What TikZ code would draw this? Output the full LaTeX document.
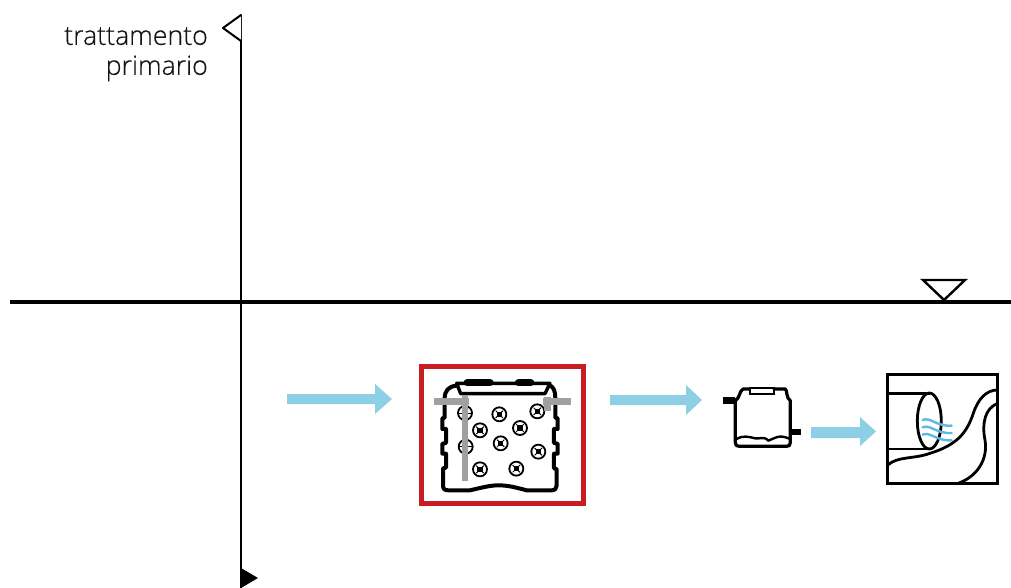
\documentclass[tikz,border=0pt]{standalone}
\usepackage{fontspec}
\newfontfamily\labfont{Open Sans Light}[FakeBold=0.35]
\begin{document}
\begin{tikzpicture}[x=1pt,y=-1pt,
  ink/.style={draw=black,line join=round,line cap=round},
  flow/.style={fill=arrowblue,draw=none},
  pipe/.style={draw=pipegray,line width=6.8pt},
  wave/.style={draw=waveblue,line width=2.4pt,line cap=round},
  label/.style={font=\labfont\fontsize{26.7}{30}\selectfont,align=right,anchor=north east,inner sep=0pt,text=black!92}]
\definecolor{arrowblue}{HTML}{8DD0E6}
\definecolor{pipegray}{HTML}{A0A0A0}
\definecolor{waveblue}{HTML}{5DB9E4}
\definecolor{boxred}{HTML}{C81E23}
\useasboundingbox (0,0) rectangle (1011,588);
\fill[white] (0,0) rectangle (1011,588);
% axes
\draw[line width=2pt] (241,15) -- (241,588);
\draw[ink,line width=2pt,fill=white] (241,15) -- (223,28) -- (241,41);
\fill (241,568) -- (258,578) -- (241,588) -- cycle;
\draw[line width=3.4pt] (10,302) -- (1011,302);
\draw[ink,line width=2.4pt,fill=white,line join=miter] (923,280) -- (965,280) -- (944,300) -- cycle;
\node[label] (txt) at (208,27) {trattamento\\primario};
% flow arrows
\fill[flow] (287,394) -- (375,394) -- (375,384) -- (392,399) -- (375,414) -- (375,404) -- (287,404) -- cycle;
\fill[flow] (610,395) -- (686,395) -- (686,385) -- (702,400) -- (686,415) -- (686,405) -- (610,405) -- cycle;
\fill[flow] (811,427) -- (860,427) -- (860,417) -- (876,431.5) -- (860,446) -- (860,438) -- (811,438) -- cycle;
% red box
\draw[draw=boxred,line width=5pt] (421.5,366.5) rectangle (583.5,503.5);
% tank
\begin{scope}[shift={(410,355)},x=0.3333pt,y=-0.3333pt]
  \draw[ink,line width=3.4pt] (140,85) -- (420,85) -- (405,116) -- (152,116) -- cycle;
  \draw[ink,line width=7.5pt] (172,83) -- (240,83) (326,83) -- (362,83);
  \draw[ink,line width=4pt]
    (140,92) .. controls (115,94) and (104,108) .. (104,130) -- (104,188) -- (97,190) -- (97,222) -- (108,222)
    -- (108,264) -- (97,266) -- (97,296) -- (108,296) -- (108,338) -- (99,340)
    -- (99,392) .. controls (99,402) and (104,406) .. (115,406) -- (180,406)
    .. controls (215,398) and (240,391) .. (265,391) .. controls (295,391) and (320,398) .. (350,406)
    -- (425,406) .. controls (435,406) and (440,400) .. (440,392) -- (440,342) -- (432,340) -- (432,296) -- (443,296) -- (443,266) -- (432,264)
    -- (432,222) -- (443,222) -- (443,190) -- (436,188) -- (436,130) .. controls (436,110) and (432,94) .. (416,90);
  \foreach \cx/\cy in {268/178,382/169,210/226,330/219,272/265,385/290,210/343,319/341} {
    \draw[line width=1.8pt,fill=white] (\cx,\cy) circle[radius=21];
    \draw[line width=1pt] (\cx-11,\cy-11) -- (\cx+11,\cy+11) (\cx-11,\cy+11) -- (\cx+11,\cy-11);
    \fill (\cx-8,\cy-8) rectangle (\cx+8,\cy+8);
  }
  \foreach \cx/\cy in {165/174,167/275} {
    \draw[line width=1.8pt,fill=white] (\cx,\cy) circle[radius=21];
    \draw[line width=0.9pt] (\cx-21,\cy) -- (\cx+21,\cy);
  }
  \draw[pipe] (73,140) -- (178,140) (165,122) -- (165,378) (400,140) -- (484,140) (412,125) -- (412,168);
\end{scope}
% small tank
\begin{scope}[shift={(710,370)},x=0.3333pt,y=-0.3333pt]
  \draw[ink,line width=3.2pt] (118,57) -- (100,57) .. controls (88,60) and (90,85) .. (76,92) -- (76,218) .. controls (76,226) and (80,229) .. (88,229) -- (230,229) .. controls (237,229) and (241,226) .. (241,218) -- (241,92) .. controls (228,85) and (232,60) .. (226,57) -- (192,57);
  \draw[line width=2.2pt] (119,53) rectangle (191,72);
  \fill (40,82) rectangle (76,101);
  \fill (241,177) rectangle (272,196);
  \draw[ink,line width=2.4pt] (78,208) .. controls (100,195) and (115,200) .. (135,205) .. controls (150,208) and (160,197) .. (175,212) .. controls (195,205) and (205,192) .. (238,206);
\end{scope}
% outfall
\begin{scope}[shift={(710,370)},x=0.3333pt,y=-0.3333pt]
  \draw[line width=3pt] (533,12) rectangle (863,340);
  \draw[line width=2.8pt] (533,70) -- (660,70) (533,237) -- (660,237);
  \draw[line width=2.8pt] (658,153) ellipse[x radius=36,y radius=84];
  \draw[line width=2.8pt] (533,285) .. controls (565,258) and (610,268) .. (660,250) .. controls (740,225) and (770,190) .. (790,130) .. controls (805,85) and (830,60) .. (863,60);
  \draw[line width=2.8pt] (745,340) .. controls (800,320) and (835,270) .. (825,210) .. controls (815,160) and (825,115) .. (863,100);
  \draw[wave] (638,150) .. controls (660,140) and (680,170) .. (725,167);
  \draw[wave] (638,172) .. controls (660,162) and (680,192) .. (725,189);
  \draw[wave] (638,194) .. controls (660,184) and (680,214) .. (725,211);
\end{scope}
\end{tikzpicture}
\end{document}
